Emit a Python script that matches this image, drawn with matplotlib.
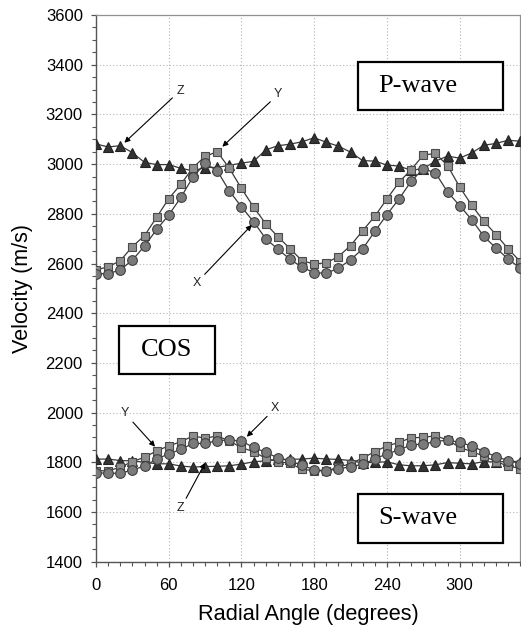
import matplotlib
matplotlib.use("Agg")
import matplotlib.pyplot as plt
from matplotlib.patches import Rectangle
from matplotlib.ticker import MultipleLocator

plt.rcParams['font.family'] = ['Liberation Sans', 'DejaVu Sans']

angles = list(range(0, 360, 10))

p_x = [2559, 2559, 2574, 2614, 2670, 2737, 2795, 2866, 2948, 3003, 2973, 2892,
       2828, 2768, 2700, 2658, 2617, 2585, 2563, 2561, 2581, 2615, 2659, 2729,
       2797, 2860, 2931, 2981, 2965, 2888, 2833, 2776, 2709, 2662, 2618, 2581]
p_y = [2574, 2587, 2611, 2668, 2712, 2786, 2861, 2919, 2986, 3031, 3050, 2983,
       2902, 2827, 2760, 2708, 2660, 2611, 2598, 2603, 2628, 2672, 2732, 2790,
       2860, 2927, 2978, 3036, 3043, 2994, 2908, 2834, 2770, 2716, 2659, 2608]
p_z = [3081, 3069, 3074, 3046, 3007, 2998, 2998, 2983, 2973, 2986, 2987, 2995,
       3004, 3011, 3057, 3074, 3080, 3090, 3106, 3088, 3072, 3048, 3014, 3012,
       2996, 2992, 2975, 2982, 3012, 3032, 3024, 3045, 3076, 3083, 3096, 3092]

s_x = [1758, 1756, 1756, 1769, 1785, 1813, 1834, 1852, 1876, 1876, 1887, 1890,
       1885, 1860, 1840, 1818, 1805, 1788, 1770, 1766, 1774, 1782, 1792, 1814,
       1834, 1850, 1870, 1874, 1883, 1890, 1880, 1866, 1843, 1823, 1807, 1795]
s_y = [1766, 1766, 1780, 1803, 1820, 1846, 1866, 1883, 1906, 1897, 1906, 1886,
       1859, 1843, 1816, 1803, 1796, 1772, 1766, 1766, 1780, 1795, 1817, 1843,
       1866, 1880, 1899, 1900, 1907, 1890, 1860, 1843, 1825, 1803, 1785, 1775]
s_z = [1813, 1813, 1807, 1806, 1800, 1794, 1794, 1785, 1781, 1783, 1784, 1786,
       1793, 1802, 1806, 1812, 1812, 1813, 1817, 1813, 1812, 1807, 1798, 1800,
       1802, 1790, 1786, 1786, 1790, 1799, 1796, 1794, 1803, 1801, 1804, 1803]

x_ticks = [0, 60, 120, 180, 240, 300]
y_ticks = list(range(1400, 3601, 200))

fig = plt.figure(figsize=(5.21, 6.35), dpi=100)
ax = fig.add_axes([0.1843, 0.1154, 0.8143, 0.861])

line_kw = dict(color='#3a3a3a', linewidth=0.9)
for data, mk, fc, ec, ms in [
    (p_z, '^', '#333333', '#222222', 7.5),
    (p_y, 's', '#8e8e8e', '#4a4a4a', 6.3),
    (p_x, 'o', '#7a7a7a', '#404040', 7.0),
    (s_z, '^', '#333333', '#222222', 7.5),
    (s_y, 's', '#8e8e8e', '#4a4a4a', 6.3),
    (s_x, 'o', '#7a7a7a', '#404040', 7.0),
]:
    ax.plot(angles, data, marker=mk, markerfacecolor=fc, markeredgecolor=ec,
            markersize=ms, markeredgewidth=0.8, **line_kw, zorder=3)

ax.set_xlim(0, 350)
ax.set_ylim(1400, 3600)
ax.set_xticks(x_ticks)
ax.set_yticks(y_ticks)
ax.xaxis.set_minor_locator(MultipleLocator(10))
ax.yaxis.set_minor_locator(MultipleLocator(50))
ax.tick_params(axis='both', which='major', direction='out', length=3.5, width=0.9,
               color='#555555', labelsize=12)
ax.tick_params(axis='x', which='major', pad=8)
ax.tick_params(axis='y', which='major', pad=6)
ax.tick_params(axis='both', which='minor', direction='out', length=3, width=0.8,
               color='#555555')
ax.grid(True, which='major', linestyle=(0, (1, 2)), color='#b5b5b5', linewidth=0.8)
ax.set_axisbelow(True)
for s in ['left', 'bottom']:
    ax.spines[s].set_color('#555555')
    ax.spines[s].set_linewidth(1.0)
for s in ['top', 'right']:
    ax.spines[s].set_color('#909090')
    ax.spines[s].set_linewidth(0.9)

ax.set_xlabel('Radial Angle (degrees)', fontsize=15.7, labelpad=8)
ax.set_ylabel('Velocity (m/s)', fontsize=15.5, labelpad=9)

# Text boxes
serif = ['Liberation Serif', 'DejaVu Serif']
for (x0, x1, y0, y1, txt, tx, ha) in [
    (216.3, 336, 3218, 3412, 'P-wave', 233, 'left'),
    (18.7, 98.5, 2155, 2350, 'COS', 58.6, 'center'),
    (216.3, 336, 1477, 1672, 'S-wave', 233, 'left'),
]:
    ax.add_patch(Rectangle((x0, y0), x1 - x0, y1 - y0, fill=True, facecolor='white',
                           edgecolor='black', linewidth=1.6, zorder=4))
    ax.text(tx, (y0 + y1) / 2, txt, family=serif, fontsize=19, ha=ha, va='center',
            zorder=5)

# Arrow annotations
arrow = dict(arrowstyle='-|>', color='black', linewidth=0.8, mutation_scale=8,
             shrinkA=1, shrinkB=0)
for (lbl, tx, ty, hx, hy) in [
    ('Z', 69.3, 3295, 23.4, 3086),
    ('Y', 150.4, 3281, 104.2, 3070),
    ('X', 83.1, 2523, 128.5, 2755),
    ('Y', 23.9, 1997, 48.7, 1863),
    ('X', 147.7, 2017, 124.4, 1903),
    ('Z', 69.9, 1615, 90.0, 1798),
]:
    ax.annotate(lbl, xy=(hx, hy), xytext=(tx, ty), fontsize=9, color='#222222',
                ha='center', va='center', arrowprops=arrow, zorder=5)

fig.savefig('out.png', dpi=100)
